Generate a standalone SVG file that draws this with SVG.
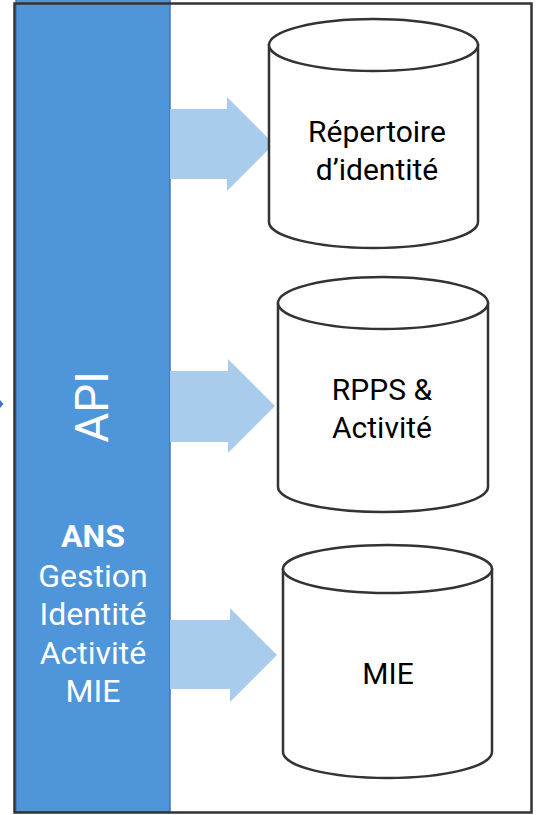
<svg xmlns="http://www.w3.org/2000/svg" width="538" height="815" viewBox="0 0 538 815">
<defs>
<style>
.cyl{fill:#fff;stroke:#333;stroke-width:2.5}
.arr{fill:#A9CBEC}
.lbl{font-family:Roboto,"Liberation Sans",sans-serif;font-size:30px;fill:#000;text-anchor:middle}
.wl{font-family:Roboto,"Liberation Sans",sans-serif;font-size:32px;fill:#fff;text-anchor:middle}
</style>
</defs>
<rect width="538" height="815" fill="#fff"/>
<g id="api-band">
<rect x="16" y="-3" width="154" height="815" fill="#4F95D9" stroke="#4472B8" stroke-width="1.5"/>
<text class="wl" transform="translate(108,407) rotate(-90)" style="font-size:46px">API</text>
<text class="wl" x="93" y="547" font-weight="bold">ANS</text>
<text class="wl" x="93" y="587">Gestion</text>
<text class="wl" x="93" y="625">Identité</text>
<text class="wl" x="93" y="664">Activité</text>
<text class="wl" x="93" y="702">MIE</text>
</g>
<rect id="frame" x="14.5" y="3.5" width="517" height="809" fill="none" stroke="#333" stroke-width="2.5"/>
<g id="connectors">
<polygon class="arr" points="170,109 227,109 227,97 274,144 227,191 227,179 170,179"/>
<polygon class="arr" points="170,371 228,371 228,359 275,406 228,453 228,442 170,442"/>
<polygon class="arr" points="170,620 230,620 230,608 277,655 230,702 230,689 170,689"/>
<polygon points="0,400 3.5,404 0,408" fill="#4472C4"/>
</g>
<g id="repertoire">
<path class="cyl" d="M269,45 L269,222 A104.5,26 0 0 0 478,222 L478,45 Z"/>
<ellipse class="cyl" cx="373.5" cy="45" rx="104.5" ry="26"/>
<text class="lbl" x="377" y="142">Répertoire</text>
<text class="lbl" x="377" y="180">d’identité</text>
</g>
<g id="rpps">
<path class="cyl" d="M278,303 L278,487 A105,25 0 0 0 488,487 L488,303 Z"/>
<ellipse class="cyl" cx="383" cy="303" rx="105" ry="26"/>
<text class="lbl" x="382" y="400">RPPS &amp;</text>
<text class="lbl" x="382" y="438">Activité</text>
</g>
<g id="mie">
<path class="cyl" d="M283,569 L283,752 A104.5,26 0 0 0 492,752 L492,569 Z"/>
<ellipse class="cyl" cx="387.5" cy="569" rx="104.5" ry="24"/>
<text class="lbl" x="388" y="684">MIE</text>
</g>
</svg>
